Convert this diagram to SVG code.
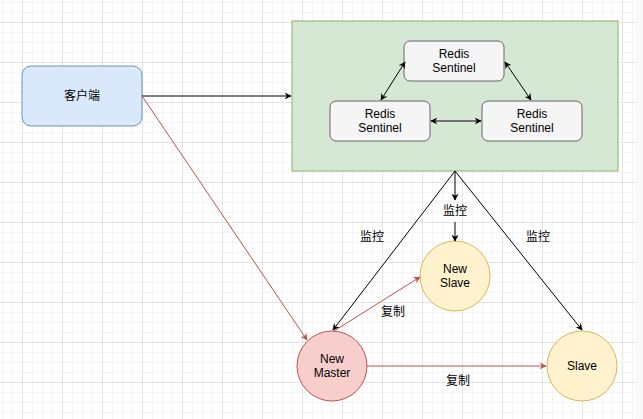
<svg xmlns="http://www.w3.org/2000/svg" width="643" height="419" viewBox="0 0 643 419">
<defs>
<pattern id="minor" x="2" y="2" width="10" height="10" patternUnits="userSpaceOnUse">
<path d="M0 0.5H10M0.5 0V10" fill="none" stroke="#f4f4f4" stroke-width="1"/>
</pattern>
<pattern id="major" x="22" y="22" width="40" height="40" patternUnits="userSpaceOnUse">
<path d="M0 0.5H40M0.5 0V40" fill="none" stroke="#e4e4e4" stroke-width="1"/>
</pattern>
<marker id="ab" viewBox="0 0 10 10" refX="9" refY="5" markerWidth="7" markerHeight="7" orient="auto-start-reverse" markerUnits="userSpaceOnUse">
<path d="M0 0L10 5L0 10L3 5Z" fill="#000"/>
</marker>
<marker id="ar" viewBox="0 0 10 10" refX="9" refY="5" markerWidth="7" markerHeight="7" orient="auto-start-reverse" markerUnits="userSpaceOnUse">
<path d="M0 0L10 5L0 10L3 5Z" fill="#b85450"/>
</marker>
<style>
text{font-family:"Liberation Sans","Noto Sans CJK SC",sans-serif;font-size:12px;fill:#000;text-anchor:middle;dominant-baseline:central}
.sent{fill:#f5f5f5;stroke:#666666;stroke-width:1}
.slave{fill:#fff2cc;stroke:#d6b656;stroke-width:1}
.blk{fill:none;stroke:#000;stroke-width:1}
.red{fill:none;stroke:#b85450;stroke-width:1}
</style>
</defs>
<rect width="643" height="419" fill="#ffffff"/>
<rect width="643" height="419" fill="url(#minor)"/>
<rect width="643" height="419" fill="url(#major)"/>
<rect x="635" y="0" width="8" height="419" fill="#f8f8f8" opacity="0.8"/>

<g id="sentinel-group">
<rect x="292" y="21" width="326" height="150" fill="#d5e8d4" stroke="#82b366"/>
</g>
<g id="client">
<rect x="22" y="66" width="120" height="60" rx="9" fill="#dae8fc" stroke="#6c8ebf"/>
<text x="82" y="96">客户端</text>
</g>
<g id="sentinel-top">
<rect class="sent" x="404" y="41" width="100" height="40" rx="6"/>
<text x="454" y="54">Redis</text>
<text x="454" y="68">Sentinel</text>
</g>
<g id="sentinel-left">
<rect class="sent" x="330" y="101" width="100" height="40" rx="6"/>
<text x="380" y="114">Redis</text>
<text x="380" y="128">Sentinel</text>
</g>
<g id="sentinel-right">
<rect class="sent" x="482" y="101" width="100" height="40" rx="6"/>
<text x="532" y="114">Redis</text>
<text x="532" y="128">Sentinel</text>
</g>
<g id="new-master">
<circle cx="332" cy="366" r="35" fill="#f8cecc" stroke="#b85450"/>
<text x="332" y="359">New</text>
<text x="332" y="373">Master</text>
</g>
<g id="new-slave">
<circle class="slave" cx="455" cy="276" r="35"/>
<text x="455" y="269">New</text>
<text x="455" y="283">Slave</text>
</g>
<g id="slave">
<circle class="slave" cx="582" cy="366" r="35"/>
<text x="582" y="366">Slave</text>
</g>

<g id="connectors">
<path class="blk" d="M142 96H291" marker-end="url(#ab)"/>
<path class="red" d="M142 96L307 340" marker-end="url(#ar)"/>
<path class="blk" d="M405 62L381 100" marker-start="url(#ab)" marker-end="url(#ab)"/>
<path class="blk" d="M505 62L531 100" marker-start="url(#ab)" marker-end="url(#ab)"/>
<path class="blk" d="M431 121H481" marker-start="url(#ab)" marker-end="url(#ab)"/>
<path class="blk" d="M455 171V200" marker-end="url(#ab)"/>
<path class="blk" d="M455 222V241" marker-end="url(#ab)"/>
<path class="blk" d="M455 171L333 330" marker-end="url(#ab)"/>
<path class="blk" d="M455 171L582 330" marker-end="url(#ab)"/>
<path class="red" d="M334 331L420 277" marker-end="url(#ar)"/>
<path class="red" d="M367 366H546" marker-end="url(#ar)"/>
<text x="455" y="211">监控</text>
<text x="372" y="237">监控</text>
<text x="538" y="237">监控</text>
<text x="393" y="312">复制</text>
<text x="458" y="381">复制</text>
</g>
</svg>
